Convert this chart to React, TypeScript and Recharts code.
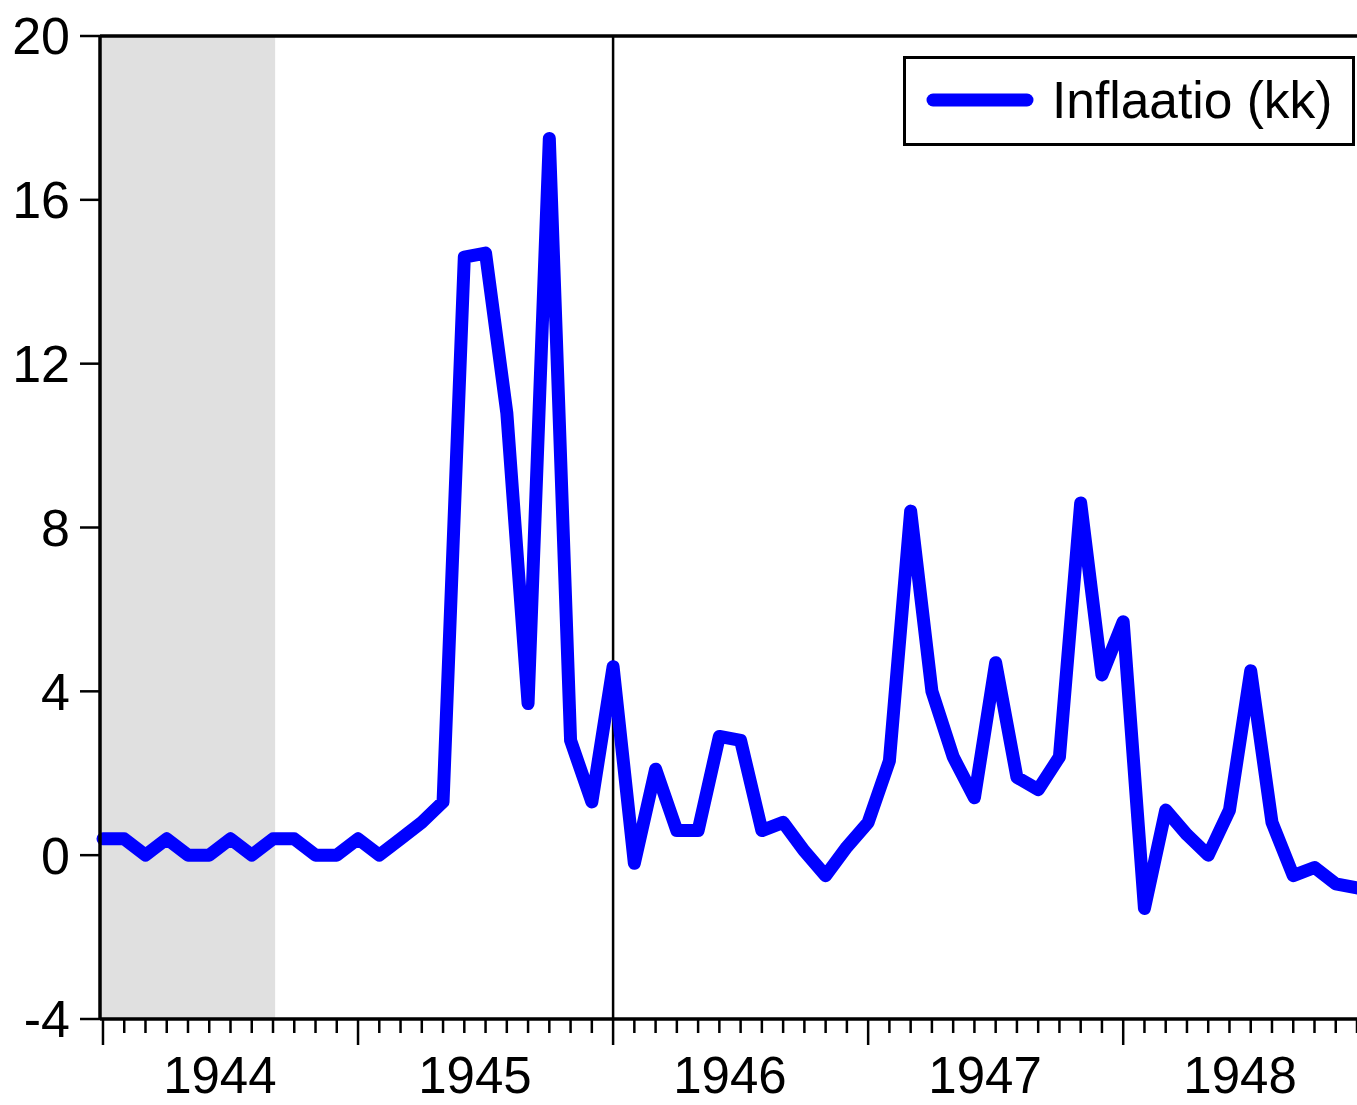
import React from 'react';
import {
  LineChart,
  Line,
  XAxis,
  YAxis,
  ReferenceArea,
  ReferenceLine,
  Legend,
} from 'recharts';

// Monthly inflation (kk), 1944M01 .. 1948M12
const MONTHS: string[] = [];
['1944', '1945', '1946', '1947', '1948'].forEach((y) => {
  for (let m = 1; m <= 12; m++) MONTHS.push(`${y}M${String(m).padStart(2, '0')}`);
});

const INFLATION: number[] = [
  0.4, 0.4, 0.0, 0.4, 0.0, 0.0, 0.4, 0.0, 0.4, 0.4, 0.0, 0.0,
  0.4, 0.0, 0.4, 0.8, 1.3, 14.6, 14.7, 10.8, 3.7, 17.5, 2.8, 1.3,
  4.6, -0.2, 2.1, 0.6, 0.6, 2.9, 2.8, 0.6, 0.8, 0.1, -0.5, 0.2,
  0.8, 2.3, 8.4, 4.0, 2.4, 1.4, 4.7, 1.9, 1.6, 2.4, 8.6, 4.4,
  5.7, -1.3, 1.1, 0.5, 0.0, 1.1, 4.5, 0.8, -0.5, -0.3, -0.7, -0.8,
];

const YEARS = ['1944', '1945', '1946', '1947', '1948'];
const Y_TICKS = [-4, 0, 4, 8, 12, 16, 20];
const SERIES_NAME = 'Inflaatio (kk)';
const SHADE_END = 8.1; // end of 1944M09
const MARK_LINE = 24; // 1946M01

const data = INFLATION.map((v, i) => ({ i, label: MONTHS[i], v }));
const MONTH_TICKS = INFLATION.map((_, i) => i);
const YEAR_TICKS = YEARS.map((_, k) => k * 12 + 5.5);
const X_MIN = -0.14;
const X_MAX = INFLATION.length - 1;

const FONT = '"Liberation Sans", Arial, sans-serif';

const MonthTick = (props: any) => {
  const { x, y, payload } = props;
  const major = payload.value % 12 === 0;
  return (
    <line
      x1={x}
      y1={y}
      x2={x}
      y2={y + (major ? 26 : 14)}
      stroke="#000"
      strokeWidth={2.5}
    />
  );
};

const LegendBox = () => (
  <svg width={452} height={90} style={{ display: 'block' }}>
    <rect x={1.5} y={1.5} width={449} height={87} fill="#fff" stroke="#000" strokeWidth={3} />
    <line x1={30} y1={44} x2={124} y2={44} stroke="#0000ff" strokeWidth={13} strokeLinecap="round" />
    <text x={149} y={62} fontFamily={FONT} fontSize={51.5} fill="#000">
      {SERIES_NAME}
    </text>
  </svg>
);

export default function App() {
  return (
    <div style={{ position: 'absolute', left: 0, top: 0, width: 1357, height: 1105, background: '#fff' }}>
      <LineChart
        width={1357}
        height={1105}
        data={data}
        margin={{ top: 36, right: 0, bottom: 0, left: 0 }}
      >
        <XAxis
          xAxisId="m"
          dataKey="i"
          type="number"
          domain={[X_MIN, X_MAX]}
          ticks={MONTH_TICKS}
          interval={0}
          height={1}
          tickSize={0}
          tickMargin={0}
          tickLine={false}
          tick={<MonthTick />}
          axisLine={{ stroke: '#000', strokeWidth: 3.5 }}
        />
        <XAxis
          xAxisId="y"
          dataKey="i"
          type="number"
          domain={[X_MIN, X_MAX]}
          ticks={YEAR_TICKS}
          interval={0}
          height={85}
          tickSize={0}
          tickMargin={37}
          tickLine={false}
          axisLine={false}
          tickFormatter={(v: number) => YEARS[Math.floor(v / 12)]}
          tick={{ fill: '#000', fontSize: 51, fontFamily: FONT }}
        />
        <YAxis
          type="number"
          domain={[-4, 20]}
          ticks={Y_TICKS}
          interval={0}
          width={100}
          tickSize={20}
          tickMargin={10}
          tickLine={{ stroke: '#000', strokeWidth: 2.5 }}
          axisLine={{ stroke: '#000', strokeWidth: 3.5 }}
          tick={{ fill: '#000', fontSize: 52, fontFamily: FONT }}
        />
        <ReferenceArea
          xAxisId="m"
          x1={X_MIN}
          x2={SHADE_END}
          y1={-4}
          y2={20}
          fill="#e0e0e0"
          fillOpacity={1}
          stroke="none"
        />
        <ReferenceLine xAxisId="m" y={20} stroke="#000" strokeWidth={3.5} />
        <ReferenceLine xAxisId="m" x={MARK_LINE} stroke="#000" strokeWidth={2.5} />
        <Legend
          layout="vertical"
          align="center"
          verticalAlign="middle"
          content={() => <LegendBox />}
          wrapperStyle={{ position: 'absolute', left: 903, top: 56, width: 452, height: 90 }}
        />
        <Line
          xAxisId="m"
          type="linear"
          dataKey="v"
          name={SERIES_NAME}
          stroke="#0000ff"
          strokeWidth={13}
          strokeLinejoin="round"
          strokeLinecap="round"
          dot={false}
          activeDot={false}
          isAnimationActive={false}
        />
      </LineChart>
    </div>
  );
}
